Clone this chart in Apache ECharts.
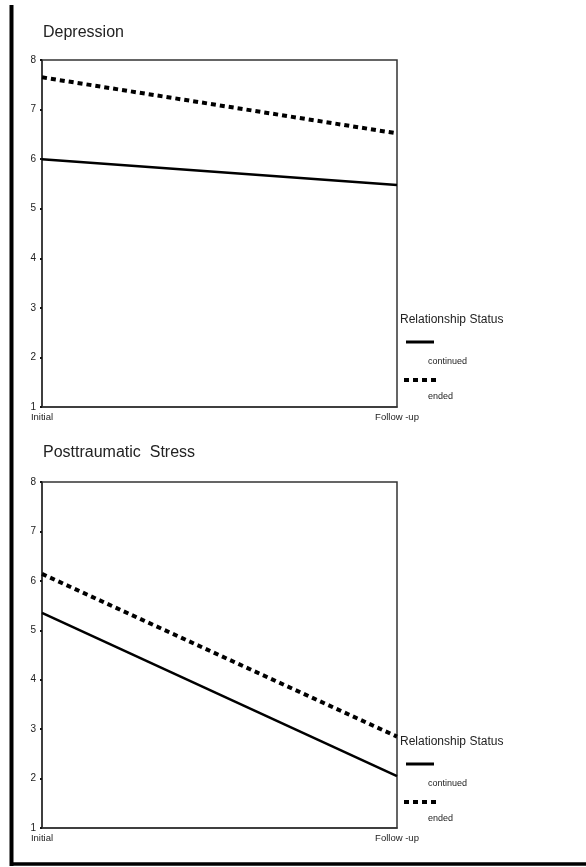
<!DOCTYPE html>
<html>
<head>
<meta charset="utf-8">
<script src="https://cdn.jsdelivr.net/npm/echarts@6/dist/echarts.min.js"></script>
<style>
  html, body { margin: 0; padding: 0; background: #fff; }
  #chart { width: 586px; height: 867px; }
</style>
</head>
<body>
<div id="chart"></div>
<script>
// 时间点
var timePoints = ['Initial', 'Follow -up'];
var yTicks = [1, 2, 3, 4, 5, 6, 7, 8];
// Depression
var depContinued = [6.0, 5.48];
var depEnded = [7.65, 6.52];
// Posttraumatic Stress
var ptsContinued = [5.35, 2.05];
var ptsEnded = [6.14, 2.85];

var font = 'Liberation Sans, Arial, sans-serif';
var chart = echarts.init(document.getElementById('chart'));

function xAxisCfg(gi) {
  return {
    type: 'category',
    gridIndex: gi,
    boundaryGap: false,
    data: timePoints,
    axisLine: { lineStyle: { color: '#333', width: 1.5 } },
    axisTick: { show: false },
    axisLabel: { color: '#222', fontSize: 9.5, fontFamily: font, margin: 5 },
    splitLine: { show: false }
  };
}
function yAxisCfg(gi) {
  return {
    type: 'value',
    gridIndex: gi,
    min: yTicks[0],
    max: yTicks[yTicks.length - 1],
    interval: 1,
    axisLine: { show: true, lineStyle: { color: '#333', width: 1.5 } },
    axisTick: { show: true, length: 2, lineStyle: { color: '#111', width: 2 } },
    axisLabel: { color: '#222', fontSize: 10, fontFamily: font, margin: 6 },
    splitLine: { show: false }
  };
}
function lineSeries(gi, data, dotted) {
  return {
    type: 'line',
    xAxisIndex: gi,
    yAxisIndex: gi,
    data: data,
    symbol: 'none',
    silent: true,
    lineStyle: dotted
      ? { color: '#000', width: 4, type: [5, 4], cap: 'butt' }
      : { color: '#000', width: 2.5 }
  };
}
// 图例 (手动绘制)
function legend(top) {
  return [
    { type: 'text', left: 400, top: top - 7, style: { text: 'Relationship Status', fill: '#222', font: '12px ' + font } },
    { type: 'line', shape: { x1: 406, y1: top + 21, x2: 434, y2: top + 21 }, style: { stroke: '#000', lineWidth: 3 } },
    { type: 'text', left: 428, top: top + 36, style: { text: 'continued', fill: '#222', font: '9px ' + font } },
    { type: 'line', shape: { x1: 404, y1: top + 59, x2: 437, y2: top + 59 }, style: { stroke: '#000', lineWidth: 4, lineDash: [5, 4] } },
    { type: 'text', left: 428, top: top + 71, style: { text: 'ended', fill: '#222', font: '9px ' + font } }
  ];
}

var option = {
  backgroundColor: '#fff',
  animation: false,
  title: [
    { text: 'Depression', left: 38, top: 20, textStyle: { color: '#222', fontSize: 16, fontWeight: 'normal', fontFamily: font } },
    { text: 'Posttraumatic  Stress', left: 38, top: 440, textStyle: { color: '#222', fontSize: 16, fontWeight: 'normal', fontFamily: font } }
  ],
  grid: [
    { left: 42, top: 60, width: 355, height: 347, show: true, borderColor: '#333', borderWidth: 1.5, backgroundColor: 'transparent' },
    { left: 42, top: 482, width: 355, height: 346, show: true, borderColor: '#333', borderWidth: 1.5, backgroundColor: 'transparent' }
  ],
  xAxis: [xAxisCfg(0), xAxisCfg(1)],
  yAxis: [yAxisCfg(0), yAxisCfg(1)],
  series: [
    lineSeries(0, depContinued, false),
    lineSeries(0, depEnded, true),
    lineSeries(1, ptsContinued, false),
    lineSeries(1, ptsEnded, true)
  ],
  graphic: [
    // 外框
    { type: 'line', shape: { x1: 11.5, y1: 5, x2: 11.5, y2: 866 }, style: { stroke: '#000', lineWidth: 4 } },
    { type: 'line', shape: { x1: 10, y1: 864, x2: 586, y2: 864 }, style: { stroke: '#000', lineWidth: 3.5 } }
  ].concat(legend(321)).concat(legend(743))
};
chart.setOption(option);
</script>
</body>
</html>
